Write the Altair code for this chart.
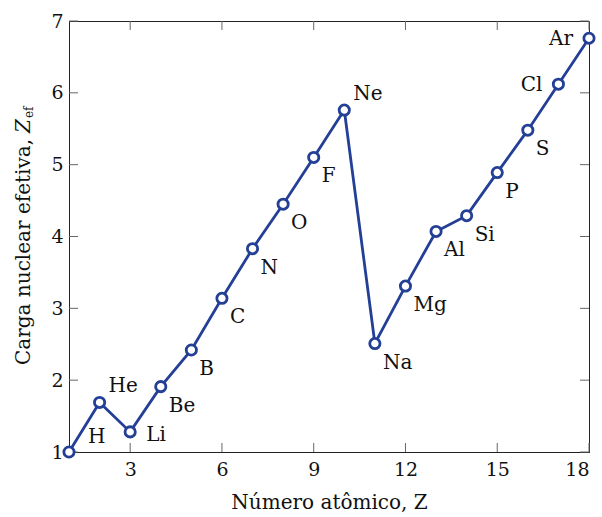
import altair as alt
import pandas as pd

Z = list(range(1, 19))
ELEMENTS = ["H", "He", "Li", "Be", "B", "C", "N", "O", "F", "Ne",
            "Na", "Mg", "Al", "Si", "P", "S", "Cl", "Ar"]
ZEF = [1.00, 1.69, 1.28, 1.91, 2.42, 3.14, 3.83, 4.45, 5.10, 5.76,
       2.51, 3.31, 4.07, 4.29, 4.89, 5.48, 6.12, 6.76]
X_TICKS = [3, 6, 9, 12, 15, 18]
Y_TICKS = [1, 2, 3, 4, 5, 6, 7]

FONT = "DejaVu Serif"
BLUE = "#233f96"
W, H = 520, 431

df = pd.DataFrame({"Z": Z, "el": ELEMENTS, "zef": ZEF})

xs = alt.Scale(domain=[1, 18], nice=False, zero=False)
ys = alt.Scale(domain=[1, 7], nice=False, zero=False)

base = alt.Chart(df)

line = base.mark_line(color=BLUE, strokeWidth=2.8).encode(
    x=alt.X("Z:Q", scale=xs,
            axis=alt.Axis(values=X_TICKS, title="Número atômico, Z", ticks=False,
                          grid=False, labelPadding=8, titlePadding=13,
                          domainColor="#222", labelFontSize=19, titleFontSize=20,
                          labelFont=FONT, titleFont=FONT, titleFontWeight="normal",
                          labelColor="#111", titleColor="#111", format="d")),
    y=alt.Y("zef:Q", scale=ys,
            axis=alt.Axis(values=Y_TICKS, title=None, ticks=False, grid=False,
                          labelPadding=6, domainColor="#222", labelFontSize=19,
                          labelFont=FONT, labelColor="#111", format="d")),
)

points = base.mark_point(shape="circle", filled=True, fill="white", stroke=BLUE,
                         strokeWidth=2.8, size=105, opacity=1).encode(
    x=alt.X("Z:Q", scale=xs), y=alt.Y("zef:Q", scale=ys))

GROUPS = [
    (["Be", "B", "C", "N", "O", "F", "Na", "Mg", "Al", "Si", "P", "S"], "left", 8, 19),
    (["He", "Ne"], "left", 9, -16),
    (["H"], "left", 19, -15),
    (["Li"], "left", 16, 3),
    (["Cl", "Ar"], "right", -16, 1),
]

labels = []
for names, align, dx, dy in GROUPS:
    labels.append(
        base.transform_filter(alt.FieldOneOfPredicate(field="el", oneOf=names))
        .mark_text(font=FONT, fontSize=20, color="#111", align=align,
                   baseline="middle", dx=dx, dy=dy)
        .encode(x=alt.X("Z:Q", scale=xs), y=alt.Y("zef:Q", scale=ys), text="el:N")
    )

# inward tick marks on all four sides
xt = alt.Chart(pd.DataFrame({"t": X_TICKS}))
yt = alt.Chart(pd.DataFrame({"t": Y_TICKS}))
TL = 9
tick_style = dict(color="#666", strokeWidth=1)
ticks_bottom = xt.mark_rule(**tick_style).encode(
    x=alt.X("t:Q", scale=xs), y=alt.value(H), y2=alt.value(H - TL))
ticks_top = xt.mark_rule(**tick_style).encode(
    x=alt.X("t:Q", scale=xs), y=alt.value(0), y2=alt.value(TL))
ticks_left = yt.mark_rule(**tick_style).encode(
    y=alt.Y("t:Q", scale=ys), x=alt.value(0), x2=alt.value(TL))
ticks_right = yt.mark_rule(**tick_style).encode(
    y=alt.Y("t:Q", scale=ys), x=alt.value(W), x2=alt.value(W - TL))

# y-axis title with italic Z and subscript "ef"
one = alt.Chart(pd.DataFrame({"a": [0]}))
ytitle_main = one.mark_text(text="Carga nuclear efetiva,", font=FONT, fontSize=20,
                            color="#111", angle=270, align="right",
                            baseline="alphabetic").encode(
    x=alt.value(-39), y=alt.value(118))
ytitle_z = one.mark_text(text="Z", font=FONT, fontSize=20, fontStyle="italic",
                         color="#111", angle=270, align="left",
                         baseline="alphabetic").encode(
    x=alt.value(-39), y=alt.value(112))
ytitle_sub = one.mark_text(text="ef", font=FONT, fontSize=12,
                           color="#111", angle=270, align="left",
                           baseline="alphabetic").encode(
    x=alt.value(-36), y=alt.value(97))

chart = alt.layer(
    ticks_bottom, ticks_top, ticks_left, ticks_right,
    line, points, *labels, ytitle_main, ytitle_z, ytitle_sub
).properties(
    width=W, height=H,
    autosize=alt.AutoSizeParams(type="none"),
    padding={"left": 69, "top": 21, "right": 13, "bottom": 65},
    background="white",
).configure_view(stroke="#222", strokeWidth=1)

chart.save("out.html", embed_options={"renderer": "svg", "actions": False})
